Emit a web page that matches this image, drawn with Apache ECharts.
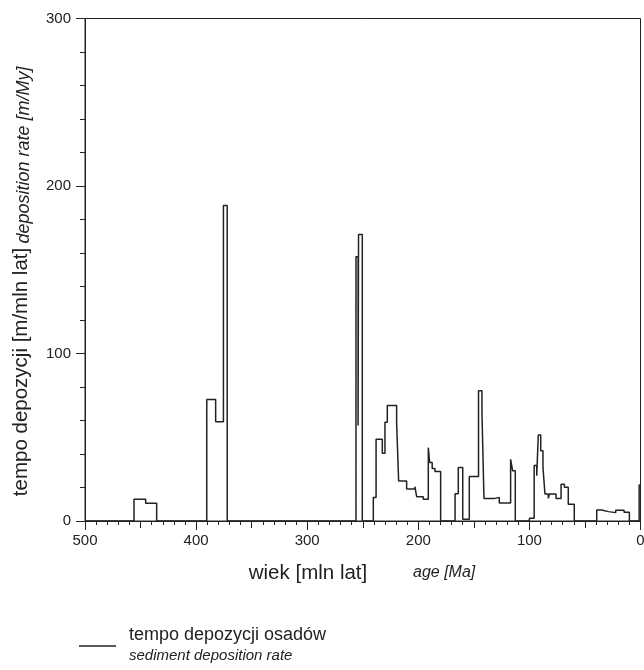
<!DOCTYPE html>
<html>
<head>
<meta charset="utf-8">
<script src="https://cdn.jsdelivr.net/npm/echarts@6/dist/echarts.min.js"></script>
<style>
html,body{margin:0;padding:0;background:#fff;}
#chart{width:644px;height:670px;}
</style>
</head>
<body>
<div id="chart"></div>
<script>
// Step breakpoints: age [Ma] where a level starts (read right-to-left in time), and the rate held until the next breakpoint
var ages  = [500, 455.9, 445.4, 435.5, 390.4, 382.4, 375.4, 372.0, 256.1, 254.2, 253.8, 250.4,
             240.5, 238.0, 232.4, 230.0, 227.9, 219.5, 217.7, 210.5, 203.0, 201.5, 195.5, 191.0,
             189.8, 187.5, 185.0, 179.9, 166.9, 164.0, 160.0, 154.1, 145.8, 142.7, 140.9, 131.0,
             127.1, 116.9, 115.1, 112.7, 100.0, 95.7, 93.4, 92.0, 89.8, 87.8, 86.0, 83.0,
             82.0, 76.0, 71.5, 68.5, 65.0, 59.6, 39.4, 34.9, 28.9, 22.3, 14.8, 10.0, 1.2, 0];
var rates = [0, 13.0, 10.6, 0, 72.6, 59.3, 188.3, 0, 157.8, 57.0, 171.0, 0,
             14.1, 48.8, 40.4, 58.9, 68.9, 58.3, 23.9, 19.1, 20.5, 14.5, 13.0, 43.8,
             35.0, 31.4, 29.5, 0, 16.3, 32.0, 1.0, 26.5, 77.8, 64.7, 13.5, 14.1,
             10.8, 36.8, 30.0, 0, 1.6, 33.2, 27.0, 51.3, 42.0, 32.0, 16.1, 13.5,
             16.1, 13.5, 21.9, 20.1, 10.0, 0, 6.6, 5.6, 5.0, 6.4, 5.2, 0, 21.5, 21.5];

var xTicks = [500, 400, 300, 200, 100, 0];
var yTicks = [0, 100, 200, 300];

var yTitle = 'tempo depozycji [m/mln lat]';
var yTitleEn = 'deposition rate [m/My]';
var xTitle = 'wiek [mln lat]';
var xTitleEn = 'age [Ma]';
var legendPl = 'tempo depozycji osadów';
var legendEn = 'sediment deposition rate';

var FONT = '"Liberation Sans", Arial, Helvetica, sans-serif';
var INK = '#222';

var seriesData = ages.map(function (a, i) { return [a, rates[i]]; });

var chart = echarts.init(document.getElementById('chart'), null, {renderer: 'canvas'});
chart.setOption({
  animation: false,
  backgroundColor: '#fff',
  grid: {left: 85, top: 18.5, width: 555.5, height: 502.5, show: true,
         outerBoundsMode: 'none', containLabel: false,
         borderColor: INK, borderWidth: 1, backgroundColor: 'transparent'},
  xAxis: [{
    type: 'value', min: 0, max: 500, interval: 100, inverse: true, position: 'bottom',
    axisLine: {show: true, onZero: false, lineStyle: {color: INK, width: 1}},
    axisTick: {show: true, length: 9, lineStyle: {color: INK, width: 1}},
    minorTick: {show: true, splitNumber: 10, length: 4, lineStyle: {color: INK, width: 1}},
    splitLine: {show: false},
    axisLabel: {show: true, margin: 12, color: INK, fontSize: 15, fontFamily: FONT,
                formatter: function (v) { return xTicks.indexOf(v) >= 0 ? String(v) : ''; }}
  }, {
    type: 'value', min: 0, max: 500, interval: 50, inverse: true, position: 'bottom',
    axisLine: {show: false, onZero: false},
    axisTick: {show: true, length: 7, lineStyle: {color: INK, width: 1}},
    axisLabel: {show: false},
    splitLine: {show: false}
  }],
  yAxis: {
    type: 'value', min: 0, max: 300, interval: 100, position: 'left',
    axisLine: {show: true, onZero: false, lineStyle: {color: INK, width: 1}},
    axisTick: {show: true, length: 9, lineStyle: {color: INK, width: 1}},
    minorTick: {show: true, splitNumber: 5, length: 5, lineStyle: {color: INK, width: 1}},
    splitLine: {show: false},
    axisLabel: {show: true, margin: 14, color: INK, fontSize: 15, fontFamily: FONT,
                formatter: function (v) { return yTicks.indexOf(v) >= 0 ? String(v) : ''; }}
  },
  series: [{
    type: 'line', step: 'end', xAxisIndex: 0, yAxisIndex: 0,
    showSymbol: false, symbol: 'none',
    lineStyle: {color: INK, width: 1.5},
    data: seriesData, z: 3
  }],
  graphic: [
    {type: 'text', x: 21, y: 372, rotation: Math.PI / 2,
     style: {text: yTitle, fill: INK, font: '20.5px ' + FONT, textAlign: 'center', textVerticalAlign: 'middle'}},
    {type: 'text', x: 24, y: 155, rotation: Math.PI / 2,
     style: {text: yTitleEn, fill: INK, font: 'italic 18px ' + FONT, textAlign: 'center', textVerticalAlign: 'middle'}},
    {type: 'text', x: 308, y: 573,
     style: {text: xTitle, fill: INK, font: '20.5px ' + FONT, textAlign: 'center', textVerticalAlign: 'middle'}},
    {type: 'text', x: 413, y: 573,
     style: {text: xTitleEn, fill: INK, font: 'italic 16px ' + FONT, textAlign: 'left', textVerticalAlign: 'middle'}},
    {type: 'line', shape: {x1: 79, y1: 646, x2: 116, y2: 646},
     style: {stroke: INK, lineWidth: 1.5}},
    {type: 'text', x: 129, y: 635,
     style: {text: legendPl, fill: INK, font: '18px ' + FONT, textAlign: 'left', textVerticalAlign: 'middle'}},
    {type: 'text', x: 129, y: 656,
     style: {text: legendEn, fill: INK, font: 'italic 15px ' + FONT, textAlign: 'left', textVerticalAlign: 'middle'}}
  ]
});
</script>
</body>
</html>
